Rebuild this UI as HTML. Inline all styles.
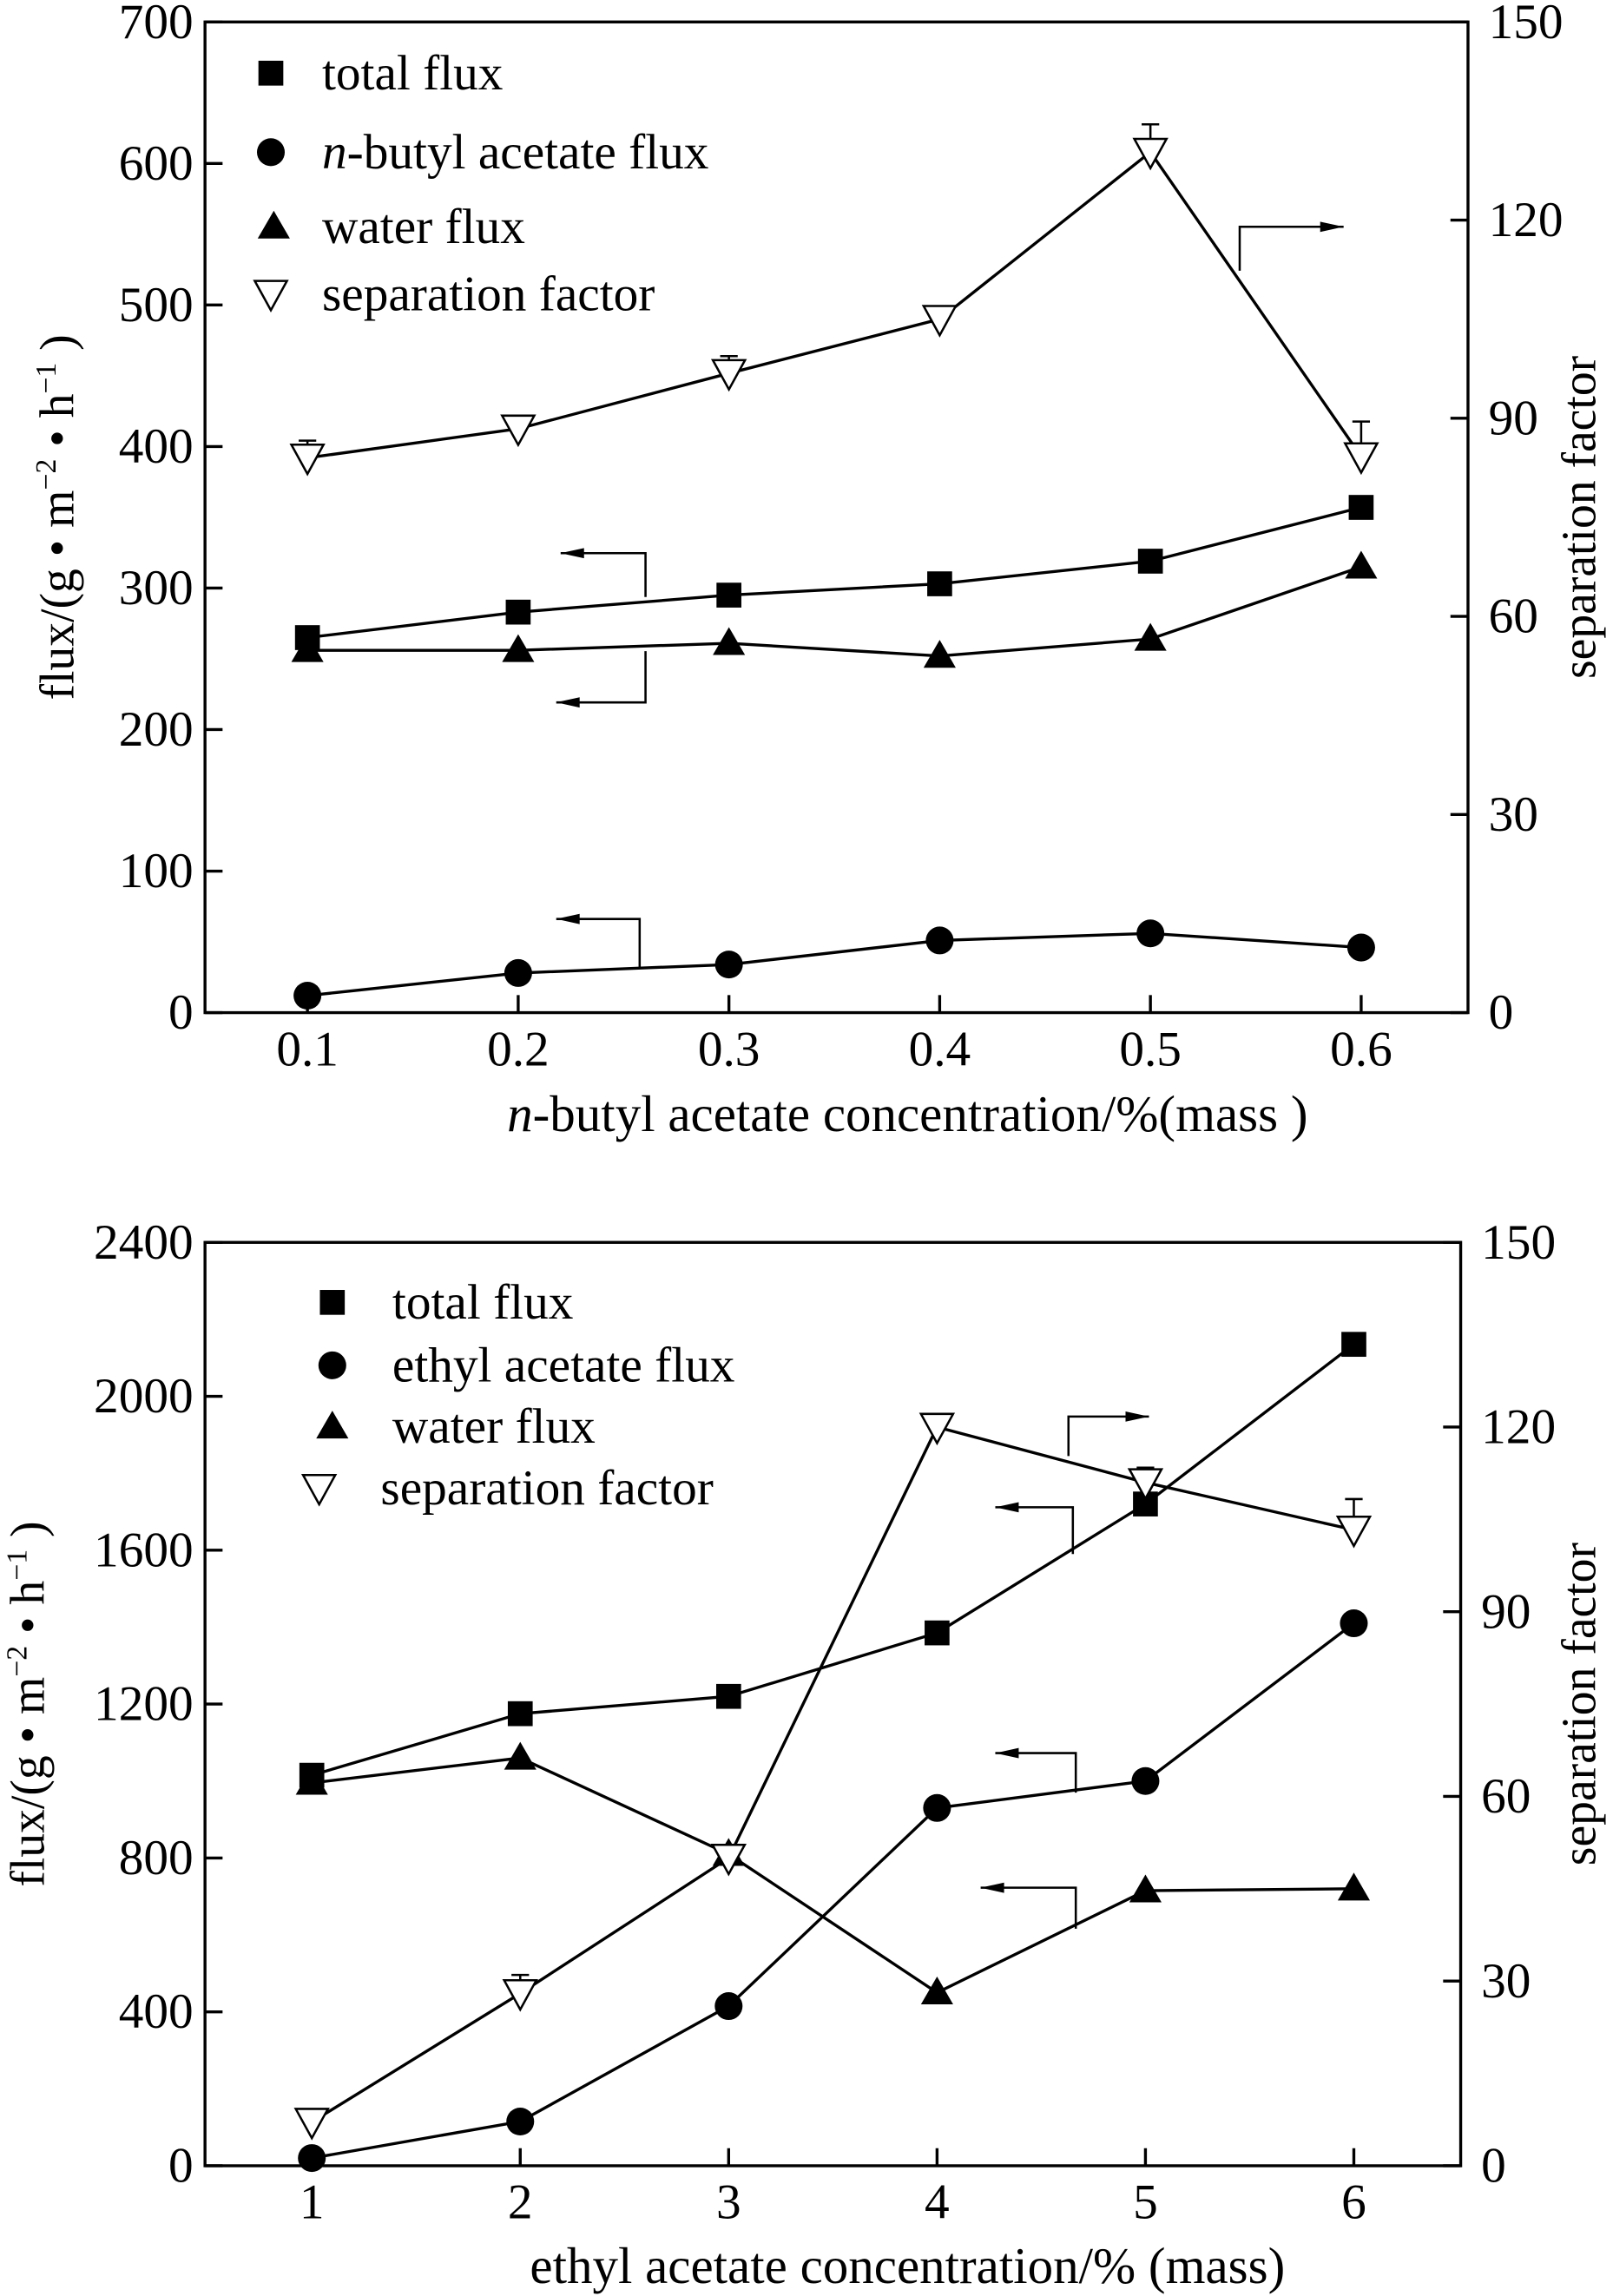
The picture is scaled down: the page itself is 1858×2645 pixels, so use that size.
<!DOCTYPE html>
<html><head><meta charset="utf-8"><style>
html,body{margin:0;padding:0;background:#fff}
svg{display:block}
text{font-family:"Liberation Serif",serif;fill:#000}
</style></head><body>
<svg id="svg" width="1858" height="2645" viewBox="0 0 1102 1569" xmlns="http://www.w3.org/2000/svg"></svg>
<script>
// ---- top chart data ----
const topX = [0.1,0.2,0.3,0.4,0.5,0.6];
const topTotal = [265,283,295,303,319,357];
const topButyl = [12,28,34,51,56,46];
const topWater = [256,256,261,252,264,315];
const topSep = [84,88.4,96.8,105,130.3,84.2];
const topSepErr = [2.6,1.5,2.6,1.5,4.2,5.3];
const topLeftTicks = [0,100,200,300,400,500,600,700];
const topRightTicks = [0,30,60,90,120,150];
const topXTicks = ["0.1","0.2","0.3","0.4","0.5","0.6"];
// ---- bottom chart data ----
const botX = [1,2,3,4,5,6];
const botTotal = [1015,1175,1220,1385,1720,2135];
const botEthyl = [20,115,415,930,1000,1410];
const botWater = [995,1060,810,450,715,720];
const botSep = [7.1,28,50,120,111,103.3];
const botSepErr = [1.7,3,1.7,1.7,2.4,5];
const botLeftTicks = [0,400,800,1200,1600,2000,2400];
const botRightTicks = [0,30,60,90,120,150];
const botXTicks = ["1","2","3","4","5","6"];

const svg=document.getElementById('svg');
const NS='http://www.w3.org/2000/svg';
function el(tag,attrs,parent,txt){const e=document.createElementNS(NS,tag);for(const k in attrs)e.setAttribute(k,attrs[k]);if(txt!==undefined)e.textContent=txt;(parent||svg).appendChild(e);return e;}

function marker(g,type,x,y){
  let m;
  if(type==='sq') m=el('rect',{x:x-8.5,y:y-8.5,width:17,height:17,fill:'#000'},g);
  else if(type==='ci') m=el('circle',{cx:x,cy:y,r:9.5,fill:'#000'},g);
  else if(type==='tr') m=el('polygon',{points:`${x},${y-11} ${x-11},${y+8} ${x+11},${y+8}`,fill:'#000'},g);
  else m=el('polygon',{points:`${x-11},${y-9} ${x+11},${y-9} ${x},${y+11}`,fill:'#fff',stroke:'#000','stroke-width':1.5},g);
  return m;
}
function series(g,name,xs,ys,xf,yf,type,err){
  const sg=el('g',{},g);
  
  
  el('polyline',{points:xs.map((v,i)=>xf(v)+','+yf(ys[i])).join(' '),fill:'none',stroke:'#000','stroke-width':2},sg);
  xs.forEach((v,i)=>{
    if(err){const yt=yf(ys[i]+err[i]);el('line',{x1:xf(v),y1:yf(ys[i]),x2:xf(v),y2:yt,stroke:'#000','stroke-width':1.5},sg);el('line',{x1:xf(v)-6,y1:yt,x2:xf(v)+6,y2:yt,stroke:'#000','stroke-width':1.5},sg);}
    const m=marker(sg,type,xf(v),yf(ys[i]));
    
    
  });
}
function arrow(g,pts,name){
  const a=el('g',{},g);
  
  
  el('polyline',{points:pts.map(p=>p.join(',')).join(' '),fill:'none',stroke:'#000','stroke-width':1.5},a);
  const [x1,y1]=pts[pts.length-2],[x2,y2]=pts[pts.length-1];const d=Math.sign(x2-x1);
  el('polygon',{points:`${x2},${y2} ${x2-d*16},${y2-3.5} ${x2-d*16},${y2+3.5}`,fill:'#000'},a);
}
function chart(cfg){
  const g=el('g',{});
  
  
  const {L,R,T,B}=cfg;
  const xf=v=>cfg.x0+(v-cfg.xs[0])*cfg.dx;
  const yl=v=>B-(v/cfg.lmax)*(B-T);
  const yr=v=>B-(v/cfg.rmax)*(B-T);
  el('rect',{x:L,y:T,width:R-L,height:B-T,fill:'none',stroke:'#000','stroke-width':2},g);
  cfg.lt.forEach(t=>{const y=yl(t);el('line',{x1:L,y1:y,x2:L+12,y2:y,stroke:'#000','stroke-width':2},g);const tx=el('text',{x:L-8,y:y+11,'font-size':34,'text-anchor':'end'},g,String(t));});
  cfg.rt.forEach(t=>{const y=yr(t);el('line',{x1:R-12,y1:y,x2:R,y2:y,stroke:'#000','stroke-width':2},g);const tx=el('text',{x:R+14,y:y+11,'font-size':34},g,String(t));});
  cfg.xt.forEach((t,i)=>{const x=xf(cfg.xs[i]);el('line',{x1:x,y1:B,x2:x,y2:B-12,stroke:'#000','stroke-width':2},g);const tx=el('text',{x:x,y:B+36,'font-size':34,'text-anchor':'middle'},g,t);});
  const yt=el('text',{x:0,y:0,'font-size':33,'text-anchor':'middle',transform:`translate(${cfg.ylx},${(T+B)/2}) rotate(-90)`},g);
  yt.innerHTML='flux/(g<tspan> • </tspan>m<tspan font-size="20" dy="-12">−2</tspan><tspan dy="12"> • </tspan>h<tspan font-size="20" dy="-12">−1</tspan><tspan dy="12"> )</tspan>';
  
  const rtl=el('text',{x:0,y:0,'font-size':33,'text-anchor':'middle',transform:`translate(${cfg.yrx},${(T+B)/2}) rotate(-90)`},g,'separation factor');
  
  const xt=el('text',{x:cfg.xtx,y:cfg.xty,'font-size':35,'text-anchor':'middle'},g);
  xt.innerHTML=cfg.xtitle;
  
  series(g,'total-flux-series',cfg.xs,cfg.total,xf,yl,'sq');
  series(g,cfg.fluxName+'-series',cfg.xs,cfg.ester,xf,yl,'ci');
  series(g,'water-flux-series',cfg.xs,cfg.water,xf,yl,'tr');
  series(g,'separation-factor-series',cfg.xs,cfg.sep,xf,yr,'dt',cfg.err);
  const lg=el('g',{},g);
  
  cfg.legend.forEach(e=>{const m=marker(lg,e[0],e[1],e[2]);const t=el('text',{x:e[3],y:e[2]+11,'font-size':34},lg);t.innerHTML=e[4];});
  cfg.arrows.forEach(a=>arrow(g,a[0],a[1]));
}
chart({name:'top-chart',L:140,R:1003,T:15,B:692,x0:210,dx:1440,xs:topX,lmax:700,rmax:150,lt:topLeftTicks,rt:topRightTicks,xt:topXTicks,
 ylx:50,yrx:1090,xtx:620,xty:773,xtitle:'<tspan font-style="italic">n</tspan>-butyl acetate concentration/%(mass )',
 total:topTotal,ester:topButyl,water:topWater,sep:topSep,err:topSepErr,fluxName:'butyl-acetate-flux',
 legend:[['sq',185,50,220,'total flux'],['ci',185,104,220,'<tspan font-style="italic">n</tspan>-butyl acetate flux'],['tr',187,155,220,'water flux'],['dt',185,201,220,'separation factor']],
 arrows:[[[[847,185],[847,155],[918,155]],'sep-arrow'],[[[441,408],[441,378],[383,378]],'total-arrow'],[[[441,445],[441,480],[380,480]],'water-arrow'],[[[437,662],[437,628],[380,628]],'butyl-arrow']]});
chart({name:'bottom-chart',L:140,R:998,T:849,B:1480,x0:213,dx:142.4,xs:botX,lmax:2400,rmax:150,lt:botLeftTicks,rt:botRightTicks,xt:botXTicks,
 ylx:30,yrx:1090,xtx:620,xty:1560,xtitle:'ethyl acetate concentration/% (mass)',
 total:botTotal,ester:botEthyl,water:botWater,sep:botSep,err:botSepErr,fluxName:'ethyl-acetate-flux',
 legend:[['sq',227,890,268,'total flux'],['ci',227,933,268,'ethyl acetate flux'],['tr',227,975,268,'water flux'],['dt',218,1017,260,'separation factor']],
 arrows:[[[[730,995],[730,968],[785,968]],'sep-arrow'],[[[733,1062],[733,1030],[680,1030]],'total-arrow'],[[[735,1225],[735,1198],[680,1198]],'ethyl-arrow'],[[[735,1318],[735,1290],[670,1290]],'water-arrow']]});
</script>
</body></html>
